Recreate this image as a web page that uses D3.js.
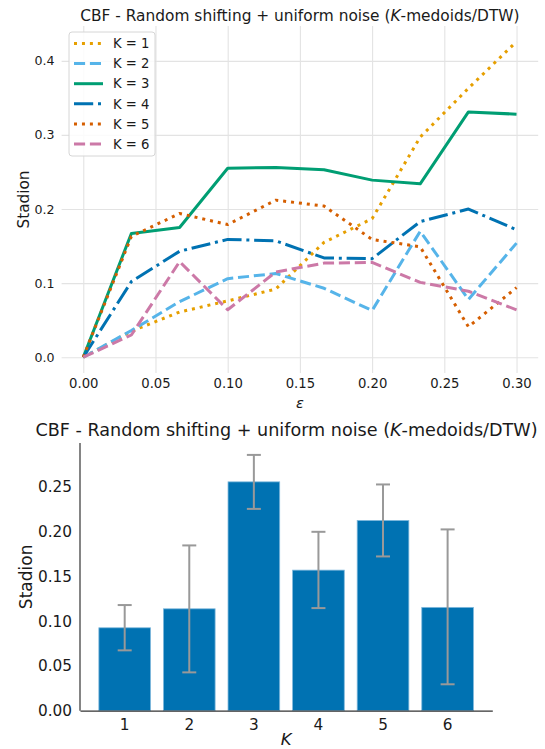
<!DOCTYPE html>
<html>
<head>
<meta charset="utf-8">
<script src="https://cdn.jsdelivr.net/npm/d3@7"></script>
<style>
  body { margin: 0; background: #fff; }
  svg text { font-family: "DejaVu Sans", sans-serif; fill: #1a1a1a; }
</style>
</head>
<body>
<script>
// top chart data
var eps = [0, 0.0333, 0.0667, 0.1, 0.1333, 0.1667, 0.2, 0.2333, 0.2667, 0.3];
var k1 = [0, 0.035, 0.061, 0.076, 0.092, 0.155, 0.187, 0.297, 0.363, 0.426];
var k2 = [0, 0.036, 0.075, 0.106, 0.113, 0.093, 0.063, 0.170, 0.078, 0.154];
var k3 = [0, 0.167, 0.175, 0.255, 0.256, 0.253, 0.239, 0.234, 0.331, 0.328];
var k4 = [0, 0.102, 0.143, 0.159, 0.157, 0.134, 0.133, 0.183, 0.200, 0.172];
var k5 = [0, 0.163, 0.194, 0.179, 0.212, 0.204, 0.159, 0.149, 0.041, 0.094];
var k6 = [0, 0.030, 0.129, 0.064, 0.115, 0.127, 0.128, 0.101, 0.089, 0.064];
var xTicks = [0, 0.05, 0.1, 0.15, 0.2, 0.25, 0.3];
var yTicks = [0, 0.1, 0.2, 0.3, 0.4];

// bottom chart data
var kLabels = ["1", "2", "3", "4", "5", "6"];
var means = [0.0926, 0.1138, 0.2556, 0.157, 0.2125, 0.1154];
var errLow = [0.0674, 0.0428, 0.2254, 0.1146, 0.1723, 0.0295];
var errHigh = [0.118, 0.1846, 0.2857, 0.1998, 0.2527, 0.2025];
var barTicks = [0, 0.05, 0.1, 0.15, 0.2, 0.25];

var series = [
  {name: "K = 1", values: k1, color: "#E69F00", dash: "3,4.95"},
  {name: "K = 2", values: k2, color: "#56B4E9", dash: "11.1,4.8"},
  {name: "K = 3", values: k3, color: "#009E73", dash: null},
  {name: "K = 4", values: k4, color: "#0072B2", dash: "19.2,4.8,3,4.8"},
  {name: "K = 5", values: k5, color: "#D55E00", dash: "3,4.95"},
  {name: "K = 6", values: k6, color: "#CC79A7", dash: "11.1,4.8"}
];

var svg = d3.select("body").append("svg")
  .attr("width", 545)
  .attr("height", 749);

function titleText(sel) {
  sel.append("tspan").text("CBF - Random shifting + uniform noise (");
  sel.append("tspan").style("font-style", "italic").text("K");
  sel.append("tspan").text("-medoids/DTW)");
}

//Top line chart
var box1 = {left: 61.6, right: 538.2, top: 26, bottom: 373};

var x = d3.scaleLinear().domain([-0.015, 0.315]).range([box1.left, box1.right]);
var y = d3.scaleLinear().domain([-0.0213, 0.447]).range([box1.bottom, box1.top]);

var g1 = svg.append("g");

g1.append("g")
  .attr("class", "y-grid")
  .attr("transform", "translate(" + box1.left + ",0)")
  .call(d3.axisLeft(y).tickValues(yTicks).tickFormat(d3.format(".1f"))
    .tickSize(-(box1.right - box1.left)).tickPadding(7))
  .call(function(a) {
    a.select(".domain").remove();
    a.selectAll("line").attr("stroke", "#e3e3e3").attr("stroke-width", 1.1);
    a.selectAll("text").attr("font-size", 12.6).attr("fill", "#1a1a1a");
  });

g1.append("g")
  .attr("class", "x-grid")
  .attr("transform", "translate(0," + box1.bottom + ")")
  .call(d3.axisBottom(x).tickValues(xTicks).tickFormat(d3.format(".2f"))
    .tickSize(-(box1.bottom - box1.top)).tickPadding(6))
  .call(function(a) {
    a.select(".domain").remove();
    a.selectAll("line").attr("stroke", "#e3e3e3").attr("stroke-width", 1.1);
    a.selectAll("text").attr("font-size", 13.2).attr("fill", "#1a1a1a");
  });

var line = d3.line()
  .x(function(d, i) { return x(eps[i]); })
  .y(function(d) { return y(d); });

g1.selectAll(".series")
  .data(series)
  .enter().append("path")
  .attr("class", "series")
  .attr("d", function(d) { return line(d.values); })
  .attr("fill", "none")
  .attr("stroke", function(d) { return d.color; })
  .attr("stroke-width", 3)
  .attr("stroke-linejoin", "round")
  .attr("stroke-dasharray", function(d) { return d.dash; });

g1.append("text")
  .attr("x", (box1.left + box1.right) / 2)
  .attr("y", 21)
  .attr("text-anchor", "middle")
  .attr("font-size", 15.4)
  .call(titleText);

g1.append("text")
  .attr("transform", "translate(29," + ((box1.top + box1.bottom) / 2) + ") rotate(-90)")
  .attr("text-anchor", "middle")
  .attr("font-size", 15.3)
  .text("Stadion");

g1.append("text")
  .attr("x", x(0.15))
  .attr("y", 408)
  .attr("text-anchor", "middle")
  .attr("font-size", 14.5)
  .style("font-style", "italic")
  .text("ε");

// legend
var legend = g1.append("g").attr("transform", "translate(69,32)");
legend.append("rect")
  .attr("width", 86)
  .attr("height", 124)
  .attr("rx", 3)
  .attr("fill", "#fff")
  .attr("fill-opacity", 0.85)
  .attr("stroke", "#d6d6d6");

var item = legend.selectAll(".item")
  .data(series)
  .enter().append("g")
  .attr("class", "item")
  .attr("transform", function(d, i) { return "translate(0," + (11.5 + i * 20.1) + ")"; });

item.append("line")
  .attr("x1", 5).attr("x2", 34)
  .attr("stroke", function(d) { return d.color; })
  .attr("stroke-width", 3)
  .attr("stroke-dasharray", function(d) { return d.dash; });

item.append("text")
  .attr("x", 44)
  .attr("dy", "0.36em")
  .attr("font-size", 13.2)
  .text(function(d) { return d.name; });

//Bottom bar chart
var box2 = {left: 80, right: 492.3, top: 443, bottom: 710.7};

var xb = d3.scaleBand().domain(kLabels).range([box2.left, box2.right])
  .paddingInner(0.2).paddingOuter(0.292);
var yb = d3.scaleLinear().domain([0, 0.299]).range([box2.bottom, box2.top]);

var g2 = svg.append("g");

g2.selectAll(".bar")
  .data(means)
  .enter().append("rect")
  .attr("class", "bar")
  .attr("x", function(d, i) { return xb(kLabels[i]); })
  .attr("y", function(d) { return yb(d); })
  .attr("width", xb.bandwidth())
  .attr("height", function(d) { return yb(0) - yb(d); })
  .attr("fill", "#0072B2")
  .attr("stroke", "#7fb8dc")
  .attr("stroke-width", 0.8);

var err = g2.selectAll(".err")
  .data(means)
  .enter().append("g")
  .attr("class", "err")
  .attr("transform", function(d, i) { return "translate(" + (xb(kLabels[i]) + xb.bandwidth() / 2) + ",0)"; });

err.append("line")
  .attr("y1", function(d, i) { return yb(errLow[i]); })
  .attr("y2", function(d, i) { return yb(errHigh[i]); })
  .attr("stroke", "#999")
  .attr("stroke-width", 2);
err.append("line")
  .attr("x1", -7).attr("x2", 7)
  .attr("y1", function(d, i) { return yb(errLow[i]); })
  .attr("y2", function(d, i) { return yb(errLow[i]); })
  .attr("stroke", "#999")
  .attr("stroke-width", 2);
err.append("line")
  .attr("x1", -7).attr("x2", 7)
  .attr("y1", function(d, i) { return yb(errHigh[i]); })
  .attr("y2", function(d, i) { return yb(errHigh[i]); })
  .attr("stroke", "#999")
  .attr("stroke-width", 2);

g2.append("g")
  .attr("transform", "translate(" + box2.left + ",0)")
  .call(d3.axisLeft(yb).tickValues(barTicks).tickFormat(d3.format(".2f"))
    .tickSize(0).tickPadding(8).tickSizeOuter(0))
  .call(function(a) {
    a.select(".domain").attr("stroke", "#333").attr("stroke-width", 1.2)
      .attr("d", "M0," + box2.top + "V" + box2.bottom);
    a.selectAll("text").attr("font-size", 15.3).attr("fill", "#1a1a1a");
  });

g2.append("g")
  .attr("transform", "translate(0," + box2.bottom + ")")
  .call(d3.axisBottom(xb).tickSize(0).tickPadding(8).tickSizeOuter(0))
  .call(function(a) {
    a.select(".domain").attr("stroke", "#333").attr("stroke-width", 1.2);
    a.selectAll("text").attr("font-size", 15.3).attr("fill", "#1a1a1a");
  });

g2.append("text")
  .attr("x", 286.5)
  .attr("y", 436)
  .attr("text-anchor", "middle")
  .attr("font-size", 17.6)
  .call(titleText);

g2.append("text")
  .attr("transform", "translate(32," + ((box2.top + box2.bottom) / 2) + ") rotate(-90)")
  .attr("text-anchor", "middle")
  .attr("font-size", 17)
  .text("Stadion");

g2.append("text")
  .attr("x", (box2.left + box2.right) / 2)
  .attr("y", 745)
  .attr("text-anchor", "middle")
  .attr("font-size", 16.5)
  .style("font-style", "italic")
  .text("K");
</script>
</body>
</html>
